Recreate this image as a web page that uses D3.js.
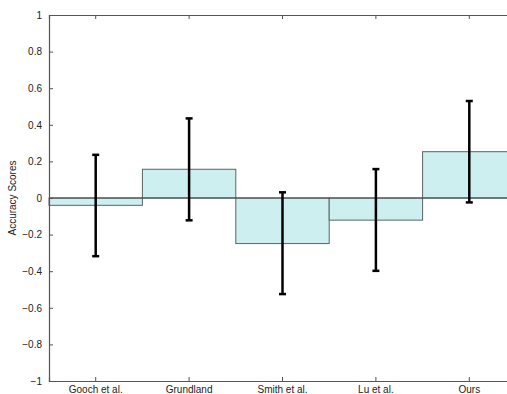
<!DOCTYPE html>
<html>
<head>
<meta charset="utf-8">
<script src="https://cdn.jsdelivr.net/npm/d3@7"></script>
<style>
  body { margin: 0; background: #fff; }
  svg { display: block; font-family: "Liberation Sans", Arial, sans-serif; }
</style>
</head>
<body>
<script>
var methods = ["Gooch et al.", "Grundland", "Smith et al.", "Lu et al.", "Ours"];
var scores = [-0.04, 0.157, -0.249, -0.121, 0.253];
var errUp = [0.236, 0.435, 0.031, 0.158, 0.530];
var errLow = [-0.318, -0.122, -0.525, -0.398, -0.024];
var yTicks = [-1, -0.8, -0.6, -0.4, -0.2, 0, 0.2, 0.4, 0.6, 0.8, 1];

var svgWidth = 507, svgHeight = 394;
var margin = { top: 15, right: -9, bottom: 13, left: 49 };
var w = svgWidth - margin.left - margin.right;
var h = svgHeight - margin.top - margin.bottom;

var svg = d3.select("body").append("svg")
  .attr("width", svgWidth)
  .attr("height", svgHeight);

var g = svg.append("g")
  .attr("transform", `translate(${margin.left},${margin.top})`);

var x = d3.scaleBand().domain(methods).range([0, w]).padding(0);
var y = d3.scaleLinear().domain([-1, 1]).range([h, 0]);

// bars
g.selectAll("rect.bar")
  .data(methods)
  .enter().append("rect")
  .attr("class", "bar")
  .attr("x", d => x(d))
  .attr("width", x.bandwidth())
  .attr("y", (d, i) => y(Math.max(0, scores[i])))
  .attr("height", (d, i) => Math.abs(y(scores[i]) - y(0)))
  .attr("fill", "#cdeff0")
  .attr("stroke", "#5a6464")
  .attr("stroke-width", 1);

// baseline
g.append("line")
  .attr("x1", 0).attr("x2", w)
  .attr("y1", y(0)).attr("y2", y(0))
  .attr("stroke", "#3c4444").attr("stroke-width", 1);

// error bars
var cap = 3.5;
var eb = g.selectAll("g.err").data(methods).enter().append("g")
  .attr("class", "err")
  .attr("transform", d => `translate(${x(d) + x.bandwidth() / 2},0)`);
eb.append("line")
  .attr("y1", (d, i) => y(errUp[i])).attr("y2", (d, i) => y(errLow[i]))
  .attr("stroke", "#000").attr("stroke-width", 2.5);
eb.append("line")
  .attr("x1", -cap).attr("x2", cap)
  .attr("y1", (d, i) => y(errUp[i])).attr("y2", (d, i) => y(errUp[i]))
  .attr("stroke", "#000").attr("stroke-width", 2.5);
eb.append("line")
  .attr("x1", -cap).attr("x2", cap)
  .attr("y1", (d, i) => y(errLow[i])).attr("y2", (d, i) => y(errLow[i]))
  .attr("stroke", "#000").attr("stroke-width", 2.5);

// axes
var fmt = d => d3.format("")(d).replace("-", "\u2212");
var yAxis = d3.axisLeft(y).tickValues(yTicks).tickSize(-4).tickPadding(7).tickFormat(fmt);
g.append("g").attr("class", "axis").call(yAxis);

var xAxis = d3.axisBottom(x).tickSize(-4).tickPadding(2);
g.append("g").attr("class", "axis xbottom")
  .attr("transform", `translate(0,${h})`)
  .call(xAxis);

var xTop = d3.axisTop(x).tickSize(-4).tickFormat("");
g.append("g").attr("class", "axis").call(xTop);

g.selectAll(".axis path").attr("stroke", "#555").attr("stroke-width", 1.2);
g.selectAll(".axis line").attr("stroke", "#555");
g.selectAll(".axis text").attr("font-size", "10px").attr("fill", "#222")
  .attr("font-family", "'Liberation Sans', Arial, sans-serif");
g.selectAll(".xbottom text").attr("dy", "0.95em");

svg.append("text")
  .attr("transform", `translate(16,${margin.top + y(0)}) rotate(-90)`)
  .attr("text-anchor", "middle")
  .attr("font-size", "10px")
  .attr("fill", "#222")
  .text("Accuracy Scores");
</script>
</body>
</html>
